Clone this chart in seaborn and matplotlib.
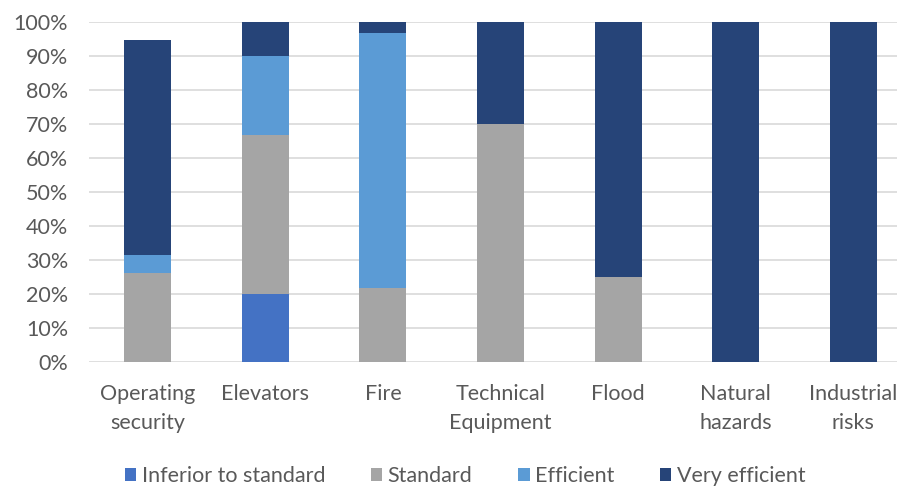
import matplotlib
matplotlib.use("Agg")
import matplotlib.pyplot as plt
import numpy as np
import seaborn as sns
from matplotlib.patches import Patch
from matplotlib.ticker import PercentFormatter

#%% Data (share of answers, %)
categories = ["Operating\nsecurity", "Elevators", "Fire", "Technical\nEquipment",
              "Flood", "Natural\nhazards", "Industrial\nrisks"]
inferior = [0.0, 20.0, 0.0, 0.0, 0.0, 0.0, 0.0]
standard = [26.3, 46.7, 21.9, 70.0, 25.0, 0.0, 0.0]
efficient = [5.3, 23.3, 75.0, 0.0, 0.0, 0.0, 0.0]
very_efficient = [63.2, 10.0, 3.1, 30.0, 75.0, 100.0, 100.0]

series_names = ["Inferior to standard", "Standard", "Efficient", "Very efficient"]
series_values = [inferior, standard, efficient, very_efficient]
colors = ["#4472C4", "#A5A5A5", "#5B9BD5", "#264478"]

#%% Figure
sns.set_style("white")
plt.rcParams['font.family'] = ['Lato', 'DejaVu Sans']
text_color = "#595959"
fs = 15.5

fig = plt.figure(figsize=(8.97, 4.87), dpi=100)
ax = fig.add_axes([89 / 897, 1 - 362 / 487, (912 - 89) / 897, 340 / 487])

bottom = np.zeros(len(categories))
for name, vals, col in zip(series_names, series_values, colors):
    sns.barplot(x=categories, y=vals, bottom=bottom, color=col, width=0.4,
                ax=ax, saturation=1, linewidth=0, zorder=3)
    bottom = bottom + np.array(vals)

ax.set_ylim(0, 100)
ax.set_yticks(np.arange(0, 101, 10))
ax.yaxis.set_major_formatter(PercentFormatter(decimals=0))
ax.grid(axis="y", color="#D9D9D9", linewidth=1.2, zorder=0)
ax.set_axisbelow(True)
for s in ax.spines.values():
    s.set_visible(False)
ax.tick_params(axis="both", length=0, labelsize=fs, colors=text_color)
ax.tick_params(axis="y", pad=15)
ax.tick_params(axis="x", pad=16)
for lbl in ax.get_xticklabels():
    lbl.set_linespacing(1.55)
ax.set_xlabel("")
ax.set_ylabel("")

handles = [Patch(facecolor=c, edgecolor="none") for c in colors]
fig.legend(handles, series_names, loc="center", bbox_to_anchor=(465 / 897, 1 - 476 / 487),
           ncol=4, frameon=False, fontsize=fs, handlelength=0.55, handleheight=0.55,
           handletextpad=0.25, columnspacing=2.1, labelcolor=text_color)

fig.savefig("out.png", dpi=100)
